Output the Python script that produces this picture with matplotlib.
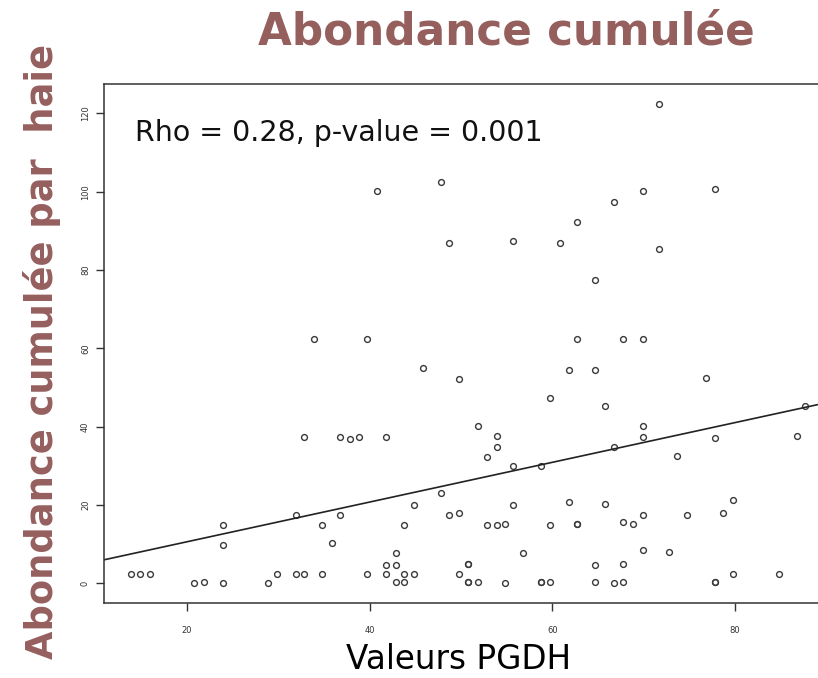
import matplotlib
matplotlib.use("Agg")
from matplotlib import pyplot as plt
import numpy as np

# data
pgdh = [71.7, 47.8, 40.8, 69.9, 77.8, 66.8, 62.7, 48.7, 55.7, 60.9, 71.7, 64.7,
        33.9, 39.75, 62.7, 67.8, 69.9, 45.8, 49.8, 61.8, 64.7, 76.85, 59.8, 65.8,
        87.7, 51.9, 69.9, 53.9, 69.9, 77.8, 86.8, 32.85, 36.8, 37.9, 38.8, 41.75,
        53.9, 66.8, 52.8, 73.7, 55.7, 58.8, 47.8, 44.9, 55.7, 61.8, 65.8, 79.8,
        31.9, 36.8, 48.7, 49.8, 69.9, 74.8, 78.7, 23.9, 34.8, 43.8, 52.8, 53.9,
        54.8, 59.8, 62.7, 62.7, 67.8, 68.8, 35.9, 23.9, 42.85, 56.8, 69.9, 72.8,
        41.75, 42.85, 50.8, 50.8, 64.7, 67.8,
        13.9, 14.9, 15.9, 29.9, 31.9, 32.85, 34.8, 39.75, 41.75, 43.8, 44.9, 49.8, 79.8, 84.8,
        20.8, 21.9, 23.9, 28.9, 42.85, 43.8, 50.8, 50.8, 51.9, 54.8, 58.8, 58.8, 59.8,
        64.7, 66.8, 67.8, 77.8, 77.8]
abondance = [122.5, 102.5, 100.3, 100.3, 100.7, 97.3, 92.2, 87.0, 87.5, 87.0, 85.3, 77.4,
             62.4, 62.4, 62.4, 62.4, 62.4, 55.0, 52.2, 54.5, 54.5, 52.4, 47.3, 45.2,
             45.3, 40.1, 40.1, 37.7, 37.5, 37.1, 37.7, 37.4, 37.4, 37.0, 37.4, 37.4,
             34.9, 34.9, 32.4, 32.6, 29.9, 29.9, 23.0, 20.0, 20.0, 20.8, 20.4, 21.3,
             17.4, 17.4, 17.4, 17.9, 17.4, 17.4, 18.1, 14.9, 14.9, 14.9, 14.9, 14.9,
             15.3, 14.9, 15.1, 15.1, 15.7, 15.3, 10.2, 9.8, 7.7, 7.7, 8.5, 8.1,
             4.6, 4.6, 4.9, 4.9, 4.6, 5.0,
             2.5, 2.5, 2.5, 2.5, 2.5, 2.5, 2.5, 2.5, 2.5, 2.5, 2.5, 2.5, 2.5, 2.5,
             0.0, 0.3, 0.0, 0.0, 0.3, 0.3, 0.3, 0.3, 0.3, 0.0, 0.3, 0.3, 0.3,
             0.3, 0.0, 0.3, 0.3, 0.3]
fit_intercept = 0.5
fit_slope = 0.507
x_ticks = [20, 40, 60, 80]
y_ticks = [0, 20, 40, 60, 80, 100, 120]

TITLE_COLOR = "#955f5e"

fig = plt.figure(figsize=(8.18, 6.78), dpi=100)
ax = fig.add_axes([0.127, 0.110, 0.873, 0.766])

ax.plot(pgdh, abondance, linestyle="none", marker="o", markersize=4.2,
        markerfacecolor="none", markeredgecolor="#3a3a3a", markeredgewidth=1.0)

xs = np.array([10.9, 89.1])
ax.plot(xs, fit_intercept + fit_slope * xs, color="#222222", linewidth=1.2)

ax.set_xlim(10.9, 89.1)
ax.set_ylim(-5.1, 127.5)
ax.set_xticks(x_ticks)
ax.set_yticks(y_ticks)
ax.spines["right"].set_visible(False)
for s in ["left", "bottom", "top"]:
    ax.spines[s].set_linewidth(1.1)
    ax.spines[s].set_color("#333333")
ax.tick_params(axis="both", direction="out", length=6, width=1, color="#333333",
               labelsize=6, labelcolor="#333333")
ax.tick_params(axis="x", pad=10)
ax.tick_params(axis="y", pad=4)
for lab in ax.get_yticklabels():
    lab.set_rotation(90)
    lab.set_verticalalignment("center")

ax.text(0.044, 0.905, "Rho = 0.28, p-value = 0.001", transform=ax.transAxes,
        fontsize=20.5, family="DejaVu Sans", color="#111111", va="center", ha="left")

fig.text(0.619, 0.953, "Abondance cumulée", fontsize=31.5, fontweight="bold",
         family="DejaVu Sans", color=TITLE_COLOR, ha="center", va="center")
fig.text(0.051, 0.481, "Abondance cumulée par  haie", fontsize=26.5, fontweight="bold",
         family="DejaVu Sans", color=TITLE_COLOR, ha="center", va="center", rotation=90)
fig.text(0.561, 0.027, "Valeurs PGDH", fontsize=23.5, family="Liberation Sans Narrow",
         color="#000000", ha="center", va="center",
         bbox=dict(facecolor="white", edgecolor="none", pad=4))

fig.savefig("out.png", dpi=100)
